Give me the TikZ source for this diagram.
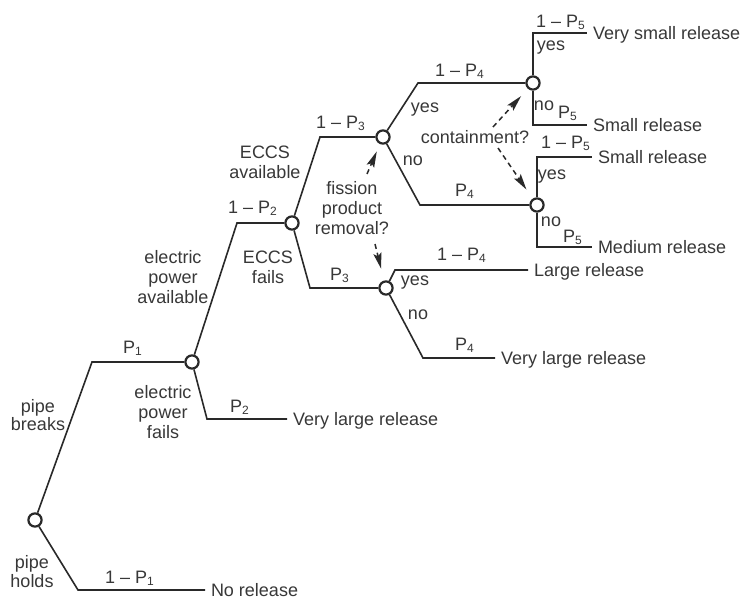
\documentclass[tikz,border=0pt]{standalone}
\usepackage{fontspec}
\setmainfont{Liberation Sans}
\usetikzlibrary{arrows.meta}
\definecolor{ink}{rgb}{0.16,0.16,0.16}
\definecolor{txt}{rgb}{0.22,0.22,0.22}
\newcommand{\Psub}[1]{P\textsubscript{#1}}
\begin{document}
\begin{tikzpicture}[x=0.5pt,y=-0.5pt,
  every node/.style={text=txt, font=\fontsize{9}{10}\selectfont},
  chance/.style={circle, draw=ink, line width=1.1pt, fill=white, minimum size=6.6pt, inner sep=0pt},
  branch/.style={draw=ink, line width=0.8pt},
  lbl/.style={inner sep=0pt, align=center},
  outc/.style={anchor=west, inner sep=0pt, outer sep=3pt, text height=6.4pt, text depth=0pt},
  darr/.style={draw=ink, line width=0.75pt, dash pattern=on 2.5pt off 2pt, -{Stealth[length=8pt,width=4pt,inset=1.5pt]}}
]
\fill[white] (0,0) rectangle (745,599);
\useasboundingbox (0,0) rectangle (745,599);

% chance nodes
\node[chance] (A) at (35,520) {};
\node[chance] (B) at (192,362) {};
\node[chance] (C) at (292,223) {};
\node[chance] (D) at (383,137) {};
\node[chance] (E) at (386,288) {};
\node[chance] (F) at (533,83) {};
\node[chance] (G) at (537,205) {};

% bends
\coordinate (a1) at (92,362);
\coordinate (a2) at (78,590);
\coordinate (b1) at (237,223);
\coordinate (b2) at (207,419);
\coordinate (c1) at (320,137);
\coordinate (c2) at (310,288);
\coordinate (d1) at (418,83);
\coordinate (d2) at (420,205);
\coordinate (e1) at (395,270);
\coordinate (e2) at (423,358);

% outcomes
\node[outc] (oA) at (205,590) {No release};
\node[outc] (oB) at (287,419) {Very large release};
\node[outc] (oE1) at (528,270) {Large release};
\node[outc] (oE2) at (495,358) {Very large release};
\node[outc] (oF1) at (587,33) {Very small release};
\node[outc] (oF2) at (587,125) {Small release};
\node[outc] (oG1) at (592,157) {Small release};
\node[outc] (oG2) at (592,247) {Medium release};

% branches
\draw[branch] (A) -- (a1) -- (B);
\draw[branch] (A) -- (a2) -- (oA.west);
\draw[branch] (B) -- (b1) -- (C);
\draw[branch] (B) -- (b2) -- (oB.west);
\draw[branch] (C) -- (c1) -- (D);
\draw[branch] (C) -- (c2) -- (E);
\draw[branch] (D) -- (d1) -- (F);
\draw[branch] (D) -- (d2) -- (G);
\draw[branch] (E) -- (e1) -- (oE1.west);
\draw[branch] (E) -- (e2) -- (oE2.west);
\draw[branch] (F) |- (oF1.west);
\draw[branch] (F) |- (oF2.west);
\draw[branch] (G) |- (oG1.west);
\draw[branch] (G) |- (oG2.west);

% labels
\node[lbl, font=\fontsize{9}{8.8}\selectfont] (lpb) at (38,415) {pipe\\breaks};
\node[lbl, font=\fontsize{9}{9.5}\selectfont] (lph) at (32,572) {pipe\\holds};
\node[lbl] (lp1) at (133,348) {\Psub{1}};
\node[lbl] (l1p1) at (130,578) {1 – \Psub{1}};
\node[lbl] (lepf) at (163,412) {electric\\power\\fails};
\node[lbl] (lp2) at (240,407) {\Psub{2}};
\node[lbl] (lepa) at (173,277) {electric\\power\\available};
\node[lbl] (l1p2) at (253,208) {1 – \Psub{2}};
\node[lbl] (lef) at (268,267) {ECCS\\fails};
\node[lbl] (lea) at (265,162) {ECCS\\available};
\node[lbl] (lp3) at (340,275) {\Psub{3}};
\node[lbl] (l1p3) at (341,123) {1 – \Psub{3}};
\node[lbl] (fpr) at (352,208) {fission\\product\\removal?};
\node[lbl] (ldy) at (425,110) {yes};
\node[lbl] (ldn) at (413,161) {no};
\node[lbl] (cont) at (475,137) {containment?};
\node[lbl] (l1p4a) at (460,71) {1 – \Psub{4}};
\node[lbl] (lp4a) at (465,191) {\Psub{4}};
\node[lbl] (ley) at (415,283) {yes};
\node[lbl] (len) at (418,315) {no};
\node[lbl] (l1p4b) at (462,255) {1 – \Psub{4}};
\node[lbl] (lp4b) at (465,345) {\Psub{4}};
\node[lbl] (l1p5a) at (561,22) {1 – \Psub{5}};
\node[lbl] (lfy) at (551,48) {yes};
\node[lbl] (lfn) at (544,106) {no};
\node[lbl] (lp5a) at (568,113) {\Psub{5}};
\node[lbl] (l1p5b) at (566,143) {1 – \Psub{5}};
\node[lbl] (lgy) at (552,177) {yes};
\node[lbl] (lgn) at (551,222) {no};
\node[lbl] (lp5b) at (573,237) {\Psub{5}};

% dashed arrows
\coordinate (fu) at (367,174);
\coordinate (fd) at (375,244);
\coordinate (cu) at (493,127);
\coordinate (cd) at (498,148);
\draw[darr, shorten >=4pt] (fu) -- (D);
\draw[darr, shorten >=6pt] (fd) -- (E);
\draw[darr, shorten >=5pt] (cu) -- (F);
\draw[darr, shorten >=5.5pt] (cd) -- (G);
\end{tikzpicture}
\end{document}
